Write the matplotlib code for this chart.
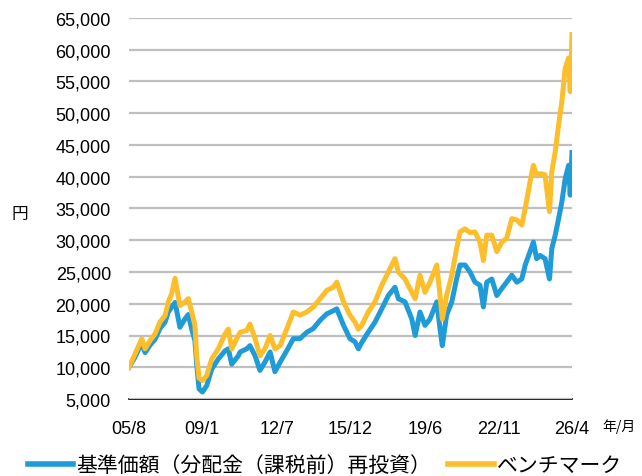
import matplotlib
matplotlib.use("Agg")
import matplotlib.pyplot as plt
from matplotlib.ticker import FuncFormatter

# months elapsed since 2005/8
months = [0, 3.4, 7.1, 9.0, 11.8, 14.6, 17.3, 20.2, 22.0, 23.9, 25.8, 28.5, 31.3, 33.2,
          35.1, 36.9, 37.9, 39.2, 41.1, 43.5, 46.3, 50.0, 53.8, 55.6, 57.5, 61.2,
          62.2, 65.9, 67.7, 70.6, 73.3, 76.1, 79.0, 81.7, 84.6, 88.3, 92.0, 95.7,
          99.5, 103.2, 107.0, 110.7, 114.4, 116.3, 120.1, 123.7, 126.5, 128.4,
          130.3, 133.9, 137.7, 141.5, 145.2, 148.9, 150.8, 154.5, 158.3, 160.2,
          162.9, 165.7, 168.5, 172.3, 174.1, 175.4, 177.8, 180.7, 183.4, 185.3,
          188.1, 190.9, 193.7, 196.5, 198.4, 200.3, 203.1, 205.9, 208.7, 211.4,
          214.3, 217.1, 219.9, 221.8, 224.5, 226.4, 228.2, 230.1, 232.9, 235.4,
          236.7, 238.6, 240.5, 242.3, 244.2, 246.1, 247.0, 248.0]

nav = [10000, 11600, 13900, 12300, 13500, 14400, 16100, 17100, 18700, 19500, 20200,
       16300, 17600, 18300, 16000, 14200, 10500, 6600, 6100, 7100, 9700, 11300,
       12600, 12900, 10500, 11800,
       12400, 12900, 13400, 11800, 9500, 10800, 12400, 9300, 10800, 12600, 14500,
       14500, 15500, 16100, 17400, 18400, 18900, 19200, 16600, 14500, 14000, 12900,
       13900, 15500, 17100, 19200, 21300, 22600, 20800, 20300, 17600, 15000,
       18700, 16600, 17600, 20300, 16100, 13400, 18200, 20300, 23900, 26100,
       26100, 25000, 23400, 22900, 19500, 23400, 23900, 21300, 22400, 23400,
       24500, 23400, 23900, 26100, 28200, 29700, 27100, 27600, 27100, 23900,
       28700, 30800, 33400, 36000, 39700, 41800, 37100, 43800]

bench = [10000, 12100, 14470, 12900, 14200, 15260, 17100, 18150, 20260, 21600, 24000,
         19700, 20260, 20800, 18700, 16600, 11800, 8300, 7900, 8700, 11300, 12900,
         15260, 16000, 12900, 15000,
         15500, 15800, 16800, 14500, 11800, 12900, 15000, 12900, 13400, 16000, 18700,
         18200, 18700, 19500, 20800, 22100, 22600, 23400, 20300, 18200, 17100, 16000,
         16600, 18700, 20300, 22900, 25000, 27100, 25000, 23900, 21800, 20800,
         24500, 21800, 23400, 26100, 21300, 17600, 21300, 24500, 28700, 31300,
         31800, 31200, 31300, 29700, 26800, 30800, 30800, 28200, 29700, 30300,
         33400, 33200, 32400, 35000, 39200, 41800, 40300, 40500, 40300, 34500,
         40800, 43900, 48200, 51800, 57100, 58700, 53400, 62400]

tick_months = [0, 41, 83, 124, 166, 207, 248]
tick_labels = ["05/8", "09/1", "12/7", "15/12", "19/6", "22/11", "26/4"]
y_ticks = list(range(5000, 65001, 5000))

series_names = ["基準価額（分配金（課税前）再投資）", "ベンチマーク"]

plt.rcParams['font.family'] = ['Liberation Sans', 'Noto Sans CJK JP', 'DejaVu Sans']
cjk = ['Noto Sans CJK JP', 'DejaVu Sans']

fig = plt.figure(figsize=(6.42, 4.77), dpi=100)
ax = fig.add_axes([129/642, 1-400/477, (572-129)/642, (400-19)/477])

ax.plot(months, nav, color="#1F9BD8", lw=3.6, label=series_names[0], solid_joinstyle='round')
ax.plot(months, bench, color="#FDBE2B", lw=3.6, label=series_names[1], solid_joinstyle='round')

ax.set_xlim(0, 248)
ax.set_ylim(5000, 65000)
ax.set_yticks(y_ticks)
ax.yaxis.set_major_formatter(FuncFormatter(lambda v, p: f"{int(v):,}"))
ax.set_xticks(tick_months)
ax.set_xticklabels(tick_labels)
ax.tick_params(axis='both', length=0, labelsize=13, colors='black')
ax.tick_params(axis='y', pad=13)
ax.tick_params(axis='x', pad=15)
ax.grid(axis='y', color='#BFBFBF', lw=1.6)
ax.set_axisbelow(True)
for s in ['left', 'right', 'top']:
    ax.spines[s].set_visible(False)
ax.spines['bottom'].set_color('black')
ax.spines['bottom'].set_linewidth(1.2)
ax.spines['bottom'].set_zorder(0.5)

fig.text(20/642, 1-215/477, "円", family=cjk, fontsize=12, ha='center', va='center')
fig.text(619/642, 1-427/477, "年/月", family=cjk, fontsize=10, ha='center', va='center')

leg = fig.legend(loc='center', bbox_to_anchor=(325/642, 1-466/477), ncol=2, frameon=False,
                 prop={'family': cjk, 'size': 15}, handlelength=2.2, handletextpad=0.15,
                 columnspacing=0.8)
for line in leg.get_lines():
    line.set_linewidth(4)

fig.savefig("out.png", dpi=100)
